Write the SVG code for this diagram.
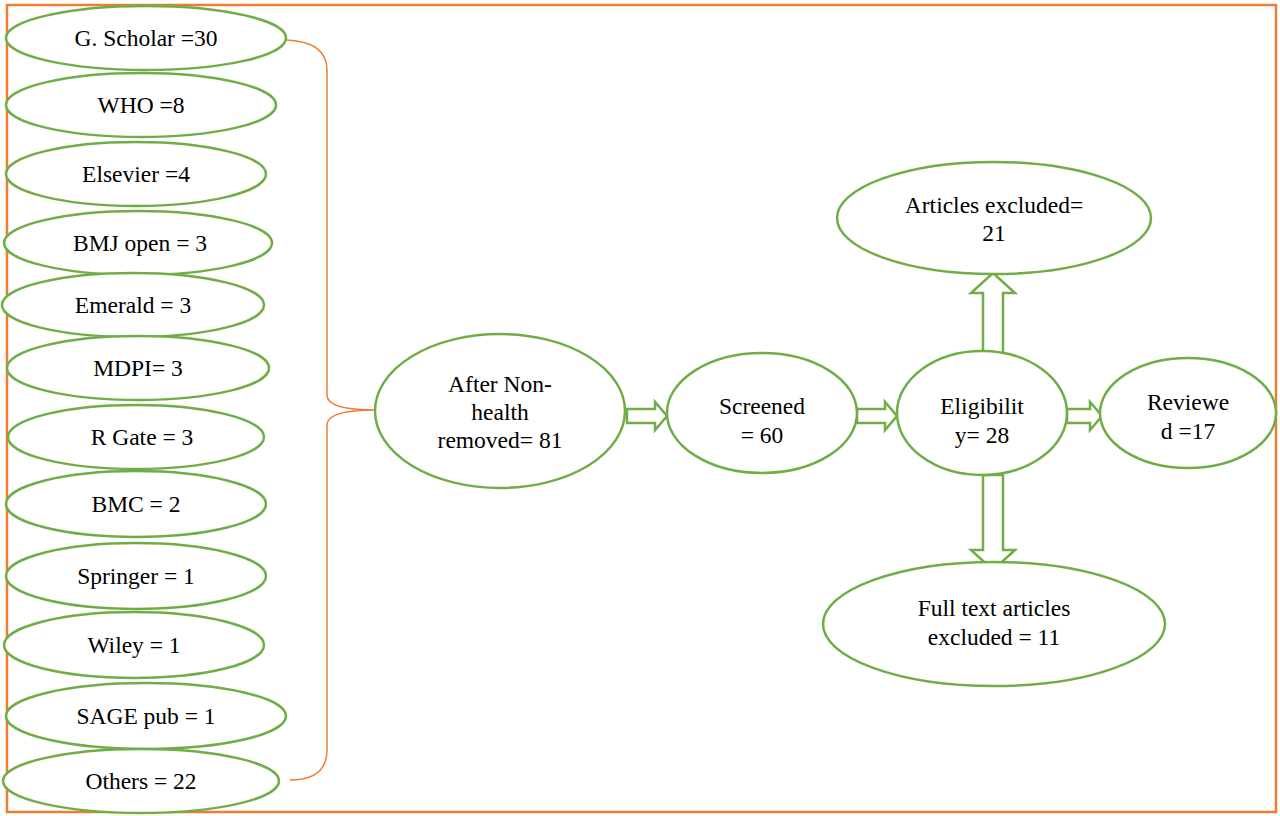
<svg xmlns="http://www.w3.org/2000/svg" width="1280" height="816" viewBox="0 0 1280 816">
<style>
.n{fill:#fff;stroke:#70ad47;stroke-width:2.5}
.t{font-family:"Liberation Serif",serif;font-size:23.5px;fill:#000;text-anchor:middle}
.a{fill:#fff;stroke:#70ad47;stroke-width:2.5}
</style>
<rect width="1280" height="816" fill="#fff"/>
<rect x="7" y="5" width="1269" height="807" fill="none" stroke="#ed7d31" stroke-width="2.5"/>
<g id="connectors">
<path d="M287,40 Q327,42 327,70 L327,395 Q327,410 375,410 Q327,410 327,425 L327,750 Q327,780 290,780" fill="none" stroke="#ed7d31" stroke-width="1.5"/>
<path class="a" d="M627,409 L655,409 L655,402 L667,416 L655,430 L655,423 L627,423 Z"/>
<path class="a" d="M857,409 L885,409 L885,402 L897,416 L885,430 L885,423 L857,423 Z"/>
<path class="a" d="M1067,409 L1090,409 L1090,402 L1102,416 L1090,430 L1090,423 L1067,423 Z"/>
<path class="a" d="M983,365 L983,293 L971,293 L993,273 L1015,293 L1003,293 L1003,365 Z"/>
<path class="a" d="M983,475 L983,550 L971,550 L993,570 L1015,550 L1003,550 L1003,475 Z"/>
</g>
<g id="n1"><ellipse class="n" cx="146" cy="38" rx="140" ry="32"/><text class="t" x="146" y="46">G. Scholar =30</text></g>
<g id="n2"><ellipse class="n" cx="141" cy="105" rx="135" ry="32"/><text class="t" x="141" y="113">WHO =8</text></g>
<g id="n3"><ellipse class="n" cx="136" cy="174" rx="130" ry="32"/><text class="t" x="136" y="182">Elsevier =4</text></g>
<g id="n4"><ellipse class="n" cx="138" cy="243" rx="134" ry="32"/><text class="t" x="140" y="251">BMJ open = 3</text></g>
<g id="n5"><ellipse class="n" cx="133" cy="305" rx="131" ry="32"/><text class="t" x="133" y="313">Emerald = 3</text></g>
<g id="n6"><ellipse class="n" cx="138" cy="368" rx="131" ry="32"/><text class="t" x="138" y="376">MDPI= 3</text></g>
<g id="n7"><ellipse class="n" cx="136" cy="437" rx="128" ry="32"/><text class="t" x="142" y="445">R Gate = 3</text></g>
<g id="n8"><ellipse class="n" cx="136" cy="504" rx="130" ry="33"/><text class="t" x="136" y="512">BMC = 2</text></g>
<g id="n9"><ellipse class="n" cx="136" cy="576" rx="130" ry="33"/><text class="t" x="136" y="584">Springer = 1</text></g>
<g id="n10"><ellipse class="n" cx="134" cy="645" rx="130" ry="33"/><text class="t" x="134" y="653">Wiley = 1</text></g>
<g id="n11"><ellipse class="n" cx="146" cy="716" rx="140" ry="33"/><text class="t" x="146" y="724">SAGE pub = 1</text></g>
<g id="n12"><ellipse class="n" cx="141" cy="781" rx="138" ry="32"/><text class="t" x="141" y="789">Others = 22</text></g>
<g id="after"><ellipse class="n" cx="500" cy="411" rx="125" ry="77"/><text class="t" x="500" y="392">After Non-</text><text class="t" x="500" y="420">health</text><text class="t" x="500" y="448">removed= 81</text></g>
<g id="screened"><ellipse class="n" cx="762" cy="413" rx="95" ry="60"/><text class="t" x="762" y="414">Screened</text><text class="t" x="762" y="443">= 60</text></g>
<g id="elig"><ellipse class="n" cx="982" cy="413" rx="85" ry="62"/><text class="t" x="982" y="414">Eligibilit</text><text class="t" x="982" y="443">y= 28</text></g>
<g id="reviewed"><ellipse class="n" cx="1188" cy="413" rx="88" ry="55"/><text class="t" x="1188" y="410">Reviewe</text><text class="t" x="1188" y="439">d =17</text></g>
<g id="excl"><ellipse class="n" cx="994" cy="218" rx="157" ry="56"/><text class="t" x="994" y="213">Articles excluded=</text><text class="t" x="994" y="241">21</text></g>
<g id="full"><ellipse class="n" cx="994" cy="624" rx="171" ry="62"/><text class="t" x="994" y="616">Full text articles</text><text class="t" x="994" y="645">excluded = 11</text></g>
</svg>
